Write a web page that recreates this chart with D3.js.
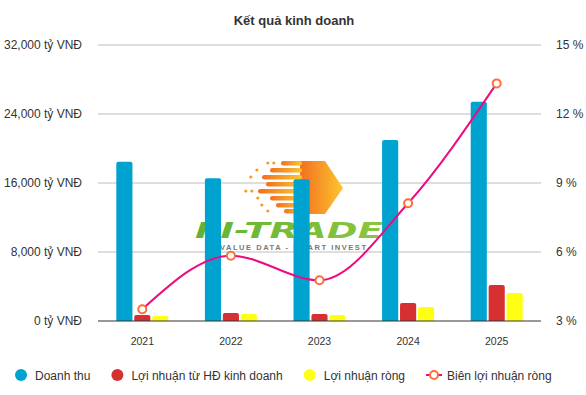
<!DOCTYPE html>
<html>
<head>
<meta charset="utf-8">
<script src="https://cdn.jsdelivr.net/npm/d3@7/dist/d3.min.js"></script>
<style>
  body { margin: 0; background: #fff; }
  svg { display: block; font-family: "Liberation Sans", Arial, sans-serif; }
</style>
</head>
<body>
<div id="chart"></div>
<script>
// data (tỷ VNĐ and %)
const years = ['2021', '2022', '2023', '2024', '2025'];
const revenue = [18450, 16550, 16430, 21000, 25430];
const operatingProfit = [700, 930, 810, 2090, 4170];
const netProfit = [580, 810, 700, 1620, 3250];
const netMargin = [3.51, 5.84, 4.77, 8.12, 13.33];
const leftTicks = [0, 8000, 16000, 24000, 32000];
const rightTicks = [3, 6, 9, 12, 15];
const seriesNames = ['Doanh thu', 'Lợi nhuận từ HĐ kinh doanh', 'Lợi nhuận ròng', 'Biên lợi nhuận ròng'];
const colors = ['#00a2d0', '#d63031', '#ffff14', '#ec0c80'];
const markerColor = '#ff6d3a';

const width = 586, height = 395;
const margin = {top: 45, right: 45, bottom: 74, left: 98};

const svg = d3.select('#chart').append('svg')
    .attr('width', width)
    .attr('height', height);

const x = d3.scaleBand()
    .domain(years)
    .range([margin.left, width - margin.right]);
const barKeys = ['revenue', 'operatingProfit', 'netProfit'];
const barValues = {revenue, operatingProfit, netProfit};
const xInner = d3.scaleBand()
    .domain(barKeys)
    .range([-26, 26])
    .paddingInner(0.1);
const yLeft = d3.scaleLinear()
    .domain([0, 32000])
    .range([height - margin.bottom, margin.top]);
const yRight = d3.scaleLinear()
    .domain([3, 15])
    .range([height - margin.bottom, margin.top]);

// title
svg.append('text')
    .attr('x', 294).attr('y', 25)
    .attr('text-anchor', 'middle')
    .style('font-size', '13px').style('font-weight', 'bold')
    .style('fill', '#333')
    .text('Kết quả kinh doanh');

// grid
svg.append('g').selectAll('line')
    .data(leftTicks.slice(1))
    .join('line')
    .attr('x1', margin.left).attr('x2', width - margin.right)
    .attr('y1', d => yLeft(d)).attr('y2', d => yLeft(d))
    .attr('stroke', '#bdbdbd');

// watermark logo (behind the bars)
const logo = svg.append('g').attr('class', 'logo');
const defs = svg.append('defs');
const grad = defs.append('linearGradient').attr('id', 'logoGrad')
    .attr('x1', '0%').attr('x2', '100%');
grad.append('stop').attr('offset', '0%').attr('stop-color', '#f36f21');
grad.append('stop').attr('offset', '100%').attr('stop-color', '#fdc52f');
const greenGrad = defs.append('linearGradient').attr('id', 'greenGrad')
    .attr('x1', '0%').attr('x2', '100%');
greenGrad.append('stop').attr('offset', '0%').attr('stop-color', '#5fb334');
greenGrad.append('stop').attr('offset', '100%').attr('stop-color', '#8cc63f');

const lg = logo.append('g').attr('fill', 'url(#logoGrad)');
lg.append('path')
    .attr('d', 'M300,161 L325,161 L343,188 L325,214 L300,214 Z');
const stripes = [[281, 163], [270, 170], [262, 177], [266, 184], [258, 191], [270, 198], [276, 205], [284, 211]];
stripes.forEach(s => {
    lg.append('rect')
        .attr('x', s[0]).attr('y', s[1] - 2)
        .attr('width', 302 - s[0]).attr('height', 4.5)
        .attr('rx', 2.2);
});
const dots = [[268, 163], [274, 163], [257, 170], [251, 177], [246, 191], [252, 191], [258, 198], [262, 205], [268, 211]];
dots.forEach(d => {
    lg.append('circle').attr('cx', d[0]).attr('cy', d[1]).attr('r', 1.6);
});
logo.append('text')
    .attr('x', 195).attr('y', 238)
    .attr('textLength', 188).attr('lengthAdjust', 'spacingAndGlyphs')
    .style('font-family', '"DejaVu Sans", sans-serif')
    .style('font-size', '22px').style('font-weight', 'bold')
    .style('font-style', 'italic')
    .attr('fill', 'url(#greenGrad)')
    .text('FI-TRADE');
logo.append('text')
    .attr('x', 220).attr('y', 250)
    .attr('textLength', 146).attr('lengthAdjust', 'spacing')
    .style('font-size', '7.5px').style('font-weight', 'bold')
    .attr('fill', '#777')
    .text('VALUE DATA - SMART INVEST');

// bars with rounded tops
function topRounded(x0, y0, w, h, r) {
    r = Math.min(r, h, w / 2);
    return `M${x0},${y0 + h} V${y0 + r} Q${x0},${y0} ${x0 + r},${y0} H${x0 + w - r} Q${x0 + w},${y0} ${x0 + w},${y0 + r} V${y0 + h} Z`;
}
const barData = years.flatMap((yr, i) => barKeys.map((k, j) => ({year: yr, key: k, value: barValues[k][i], color: colors[j]})));
svg.append('g').selectAll('path.bar')
    .data(barData)
    .join('path')
    .classed('bar', true)
    .attr('fill', d => d.color)
    .attr('d', d => {
        const bx = x(d.year) + x.bandwidth() / 2 + xInner(d.key);
        const by = yLeft(d.value);
        return topRounded(bx, by, xInner.bandwidth(), yLeft(0) - by, 2);
    });

// baseline
svg.append('line')
    .attr('x1', margin.left).attr('x2', width - margin.right)
    .attr('y1', yLeft(0)).attr('y2', yLeft(0))
    .attr('stroke', '#333').attr('stroke-width', 1);

// axes
const axisLeft = svg.append('g')
    .attr('transform', `translate(${margin.left},0)`)
    .call(d3.axisLeft(yLeft).tickValues(leftTicks).tickSize(0).tickPadding(16)
        .tickFormat(d => d3.format(',')(d) + ' tỷ VNĐ'));
const axisRight = svg.append('g')
    .attr('transform', `translate(${width - margin.right},0)`)
    .call(d3.axisRight(yRight).tickValues(rightTicks).tickSize(0).tickPadding(15)
        .tickFormat(d => d + ' %'));
const axisX = svg.append('g')
    .attr('transform', `translate(0,${yLeft(0)})`)
    .call(d3.axisBottom(x).tickSize(0).tickPadding(17));
[axisLeft, axisRight, axisX].forEach(a => {
    a.select('.domain').remove();
    a.selectAll('text').style('fill', '#333').style('font-family', '"Liberation Sans", Arial, sans-serif');
});
axisLeft.selectAll('text').style('font-size', '12px');
axisRight.selectAll('text').style('font-size', '12px');
axisX.selectAll('text').style('font-size', '10.5px');

// margin line
const lineGen = d3.line()
    .x((d, i) => x(years[i]) + x.bandwidth() / 2)
    .y(d => yRight(d))
    .curve(d3.curveMonotoneX);
svg.append('path')
    .datum(netMargin)
    .attr('d', lineGen)
    .attr('fill', 'none')
    .attr('stroke', colors[3])
    .attr('stroke-width', 2);
svg.append('g').selectAll('circle')
    .data(netMargin)
    .join('circle')
    .attr('cx', (d, i) => x(years[i]) + x.bandwidth() / 2)
    .attr('cy', d => yRight(d))
    .attr('r', 4)
    .attr('fill', '#fff')
    .attr('stroke', markerColor)
    .attr('stroke-width', 2);

// legend
const legend = svg.append('g').attr('transform', 'translate(0,375)');
let lx = 15;
seriesNames.forEach((name, i) => {
    const item = legend.append('g');
    let symW = 12;
    if (i < 3) {
        item.append('circle').attr('cx', lx + 6).attr('cy', 0).attr('r', 6).attr('fill', colors[i]);
    } else {
        symW = 16;
        item.append('line').attr('x1', lx).attr('x2', lx + symW)
            .attr('y1', 0).attr('y2', 0)
            .attr('stroke', colors[3]).attr('stroke-width', 2);
        item.append('circle').attr('cx', lx + symW / 2).attr('cy', 0).attr('r', 4)
            .attr('fill', '#fff').attr('stroke', markerColor).attr('stroke-width', 2);
    }
    const tx = lx + symW + (i < 3 ? 8 : 5);
    const t = item.append('text')
        .attr('x', tx).attr('y', 4.5)
        .style('font-size', '12px').style('fill', '#333')
        .text(name);
    lx = tx + t.node().getComputedTextLength() + 21;
});
</script>
</body>
</html>
